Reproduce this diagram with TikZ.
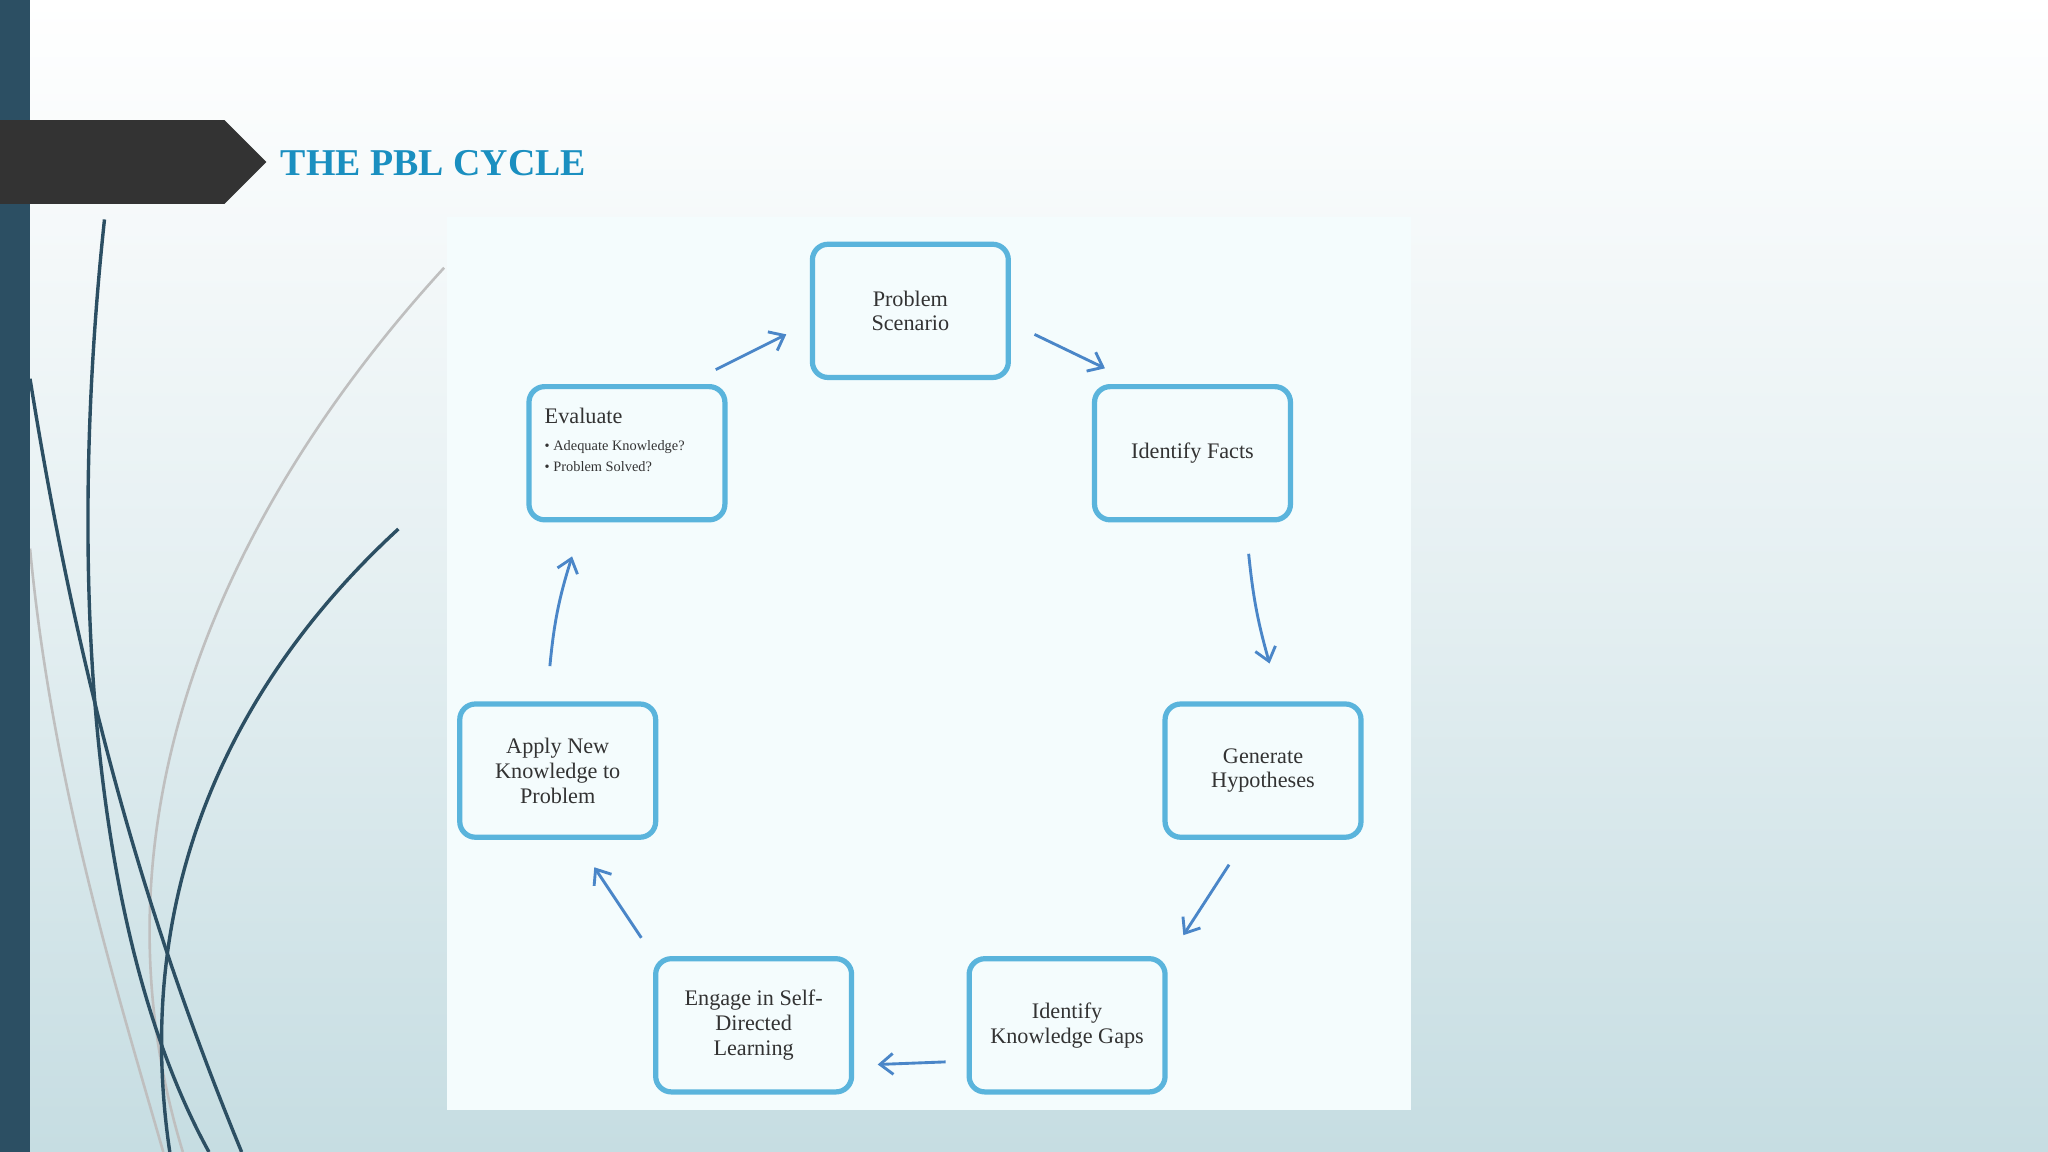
\documentclass[tikz,border=0pt]{standalone}
\usepackage{fontspec}
\setmainfont{Liberation Serif}
\usetikzlibrary{arrows.meta}
\definecolor{bar}{HTML}{2C4F63}
\definecolor{boxline}{HTML}{5AB4DC}
\definecolor{arr}{HTML}{4A86C8}
\definecolor{titleblue}{HTML}{1A8FC0}
\definecolor{panel}{HTML}{F4FCFD}
\definecolor{bottom}{HTML}{C6DDE2}
\tikzset{
  stage/.style={draw=boxline, line width=2pt, rounded corners=6pt, minimum width=75pt, minimum height=51pt, align=center, font=\fontsize{8.5}{9.5}\selectfont, text=black!80},
  flow/.style={draw=arr, line width=1.1pt, -{Straight Barb[length=5pt,width=8pt,line width=1.1pt]}},
  swoosh/.style={draw=bar, line width=1.3pt},
  ghost/.style={draw=black!25, line width=1pt}
}
\begin{document}
\begin{tikzpicture}[x=0.5pt,y=-0.5pt]
\useasboundingbox (0,0) rectangle (1568,882);
\shade[top color=white, bottom color=bottom, middle color=white!55!bottom] (0,0) rectangle (1568,882);
% swooshes
\draw[ghost] (340,205) .. controls (180,380) and (60,620) .. (140,882);
\draw[ghost] (23,420) .. controls (40,600) and (90,760) .. (125,882);
\draw[swoosh] (80,168) .. controls (55,400) and (60,700) .. (160,882);
\draw[swoosh] (23,290) .. controls (60,520) and (110,700) .. (185,882);
\draw[swoosh] (305,405) .. controls (180,520) and (100,680) .. (130,882);
\fill[bar] (0,0) rectangle (23,882);
% banner
\fill[black!80] (0,92) -- (172,92) -- (204,124) -- (172,156) -- (0,156) -- cycle;
\node[anchor=west, text=titleblue, font=\bfseries\fontsize{14.5}{16}\selectfont] (title) at (208,125) {THE PBL CYCLE};
% panel
\fill[panel] (342,166) rectangle (1080,850);
% stages
\node[stage] (scen) at (697,238) {Problem\\Scenario};
\node[stage] (facts) at (913,347) {Identify Facts};
\node[stage] (hyp) at (967,590) {Generate\\Hypotheses};
\node[stage] (gaps) at (817,785) {Identify\\Knowledge Gaps};
\node[stage] (self) at (577,785) {Engage in Self-\\Directed\\Learning};
\node[stage] (apply) at (427,590) {Apply New\\Knowledge to\\Problem};
\node[stage] (eval) at (480,347) {};
\node[anchor=north west, align=left, text=black!80, font=\fontsize{8.5}{9.5}\selectfont] (evtxt) at (410,305) {Evaluate\\[1pt]
  {\fontsize{5.5}{8}\selectfont\textbullet\ Adequate Knowledge?}\\[-1.5pt]
  {\fontsize{5.5}{8}\selectfont\textbullet\ Problem Solved?}};
% arrows
\coordinate (a1) at (548,283); \coordinate (b1) at (602,256);
\coordinate (a2) at (792,256); \coordinate (b2) at (846,282);
\coordinate (a3) at (956,424); \coordinate (b3) at (972,508);
\coordinate (a4) at (941,662); \coordinate (b4) at (906,716);
\coordinate (a5) at (724,813); \coordinate (b5) at (672,815);
\coordinate (a6) at (491,718); \coordinate (b6) at (455,664);
\coordinate (a7) at (421,510); \coordinate (b7) at (438,426);
\draw[flow] (a1) -- (b1);
\draw[flow] (a2) -- (b2);
\draw[flow] (a3) to[bend right=5] (b3);
\draw[flow] (a4) -- (b4);
\draw[flow] (a5) -- (b5);
\draw[flow] (a6) -- (b6);
\draw[flow] (a7) to[bend left=6] (b7);
\end{tikzpicture}
\end{document}
